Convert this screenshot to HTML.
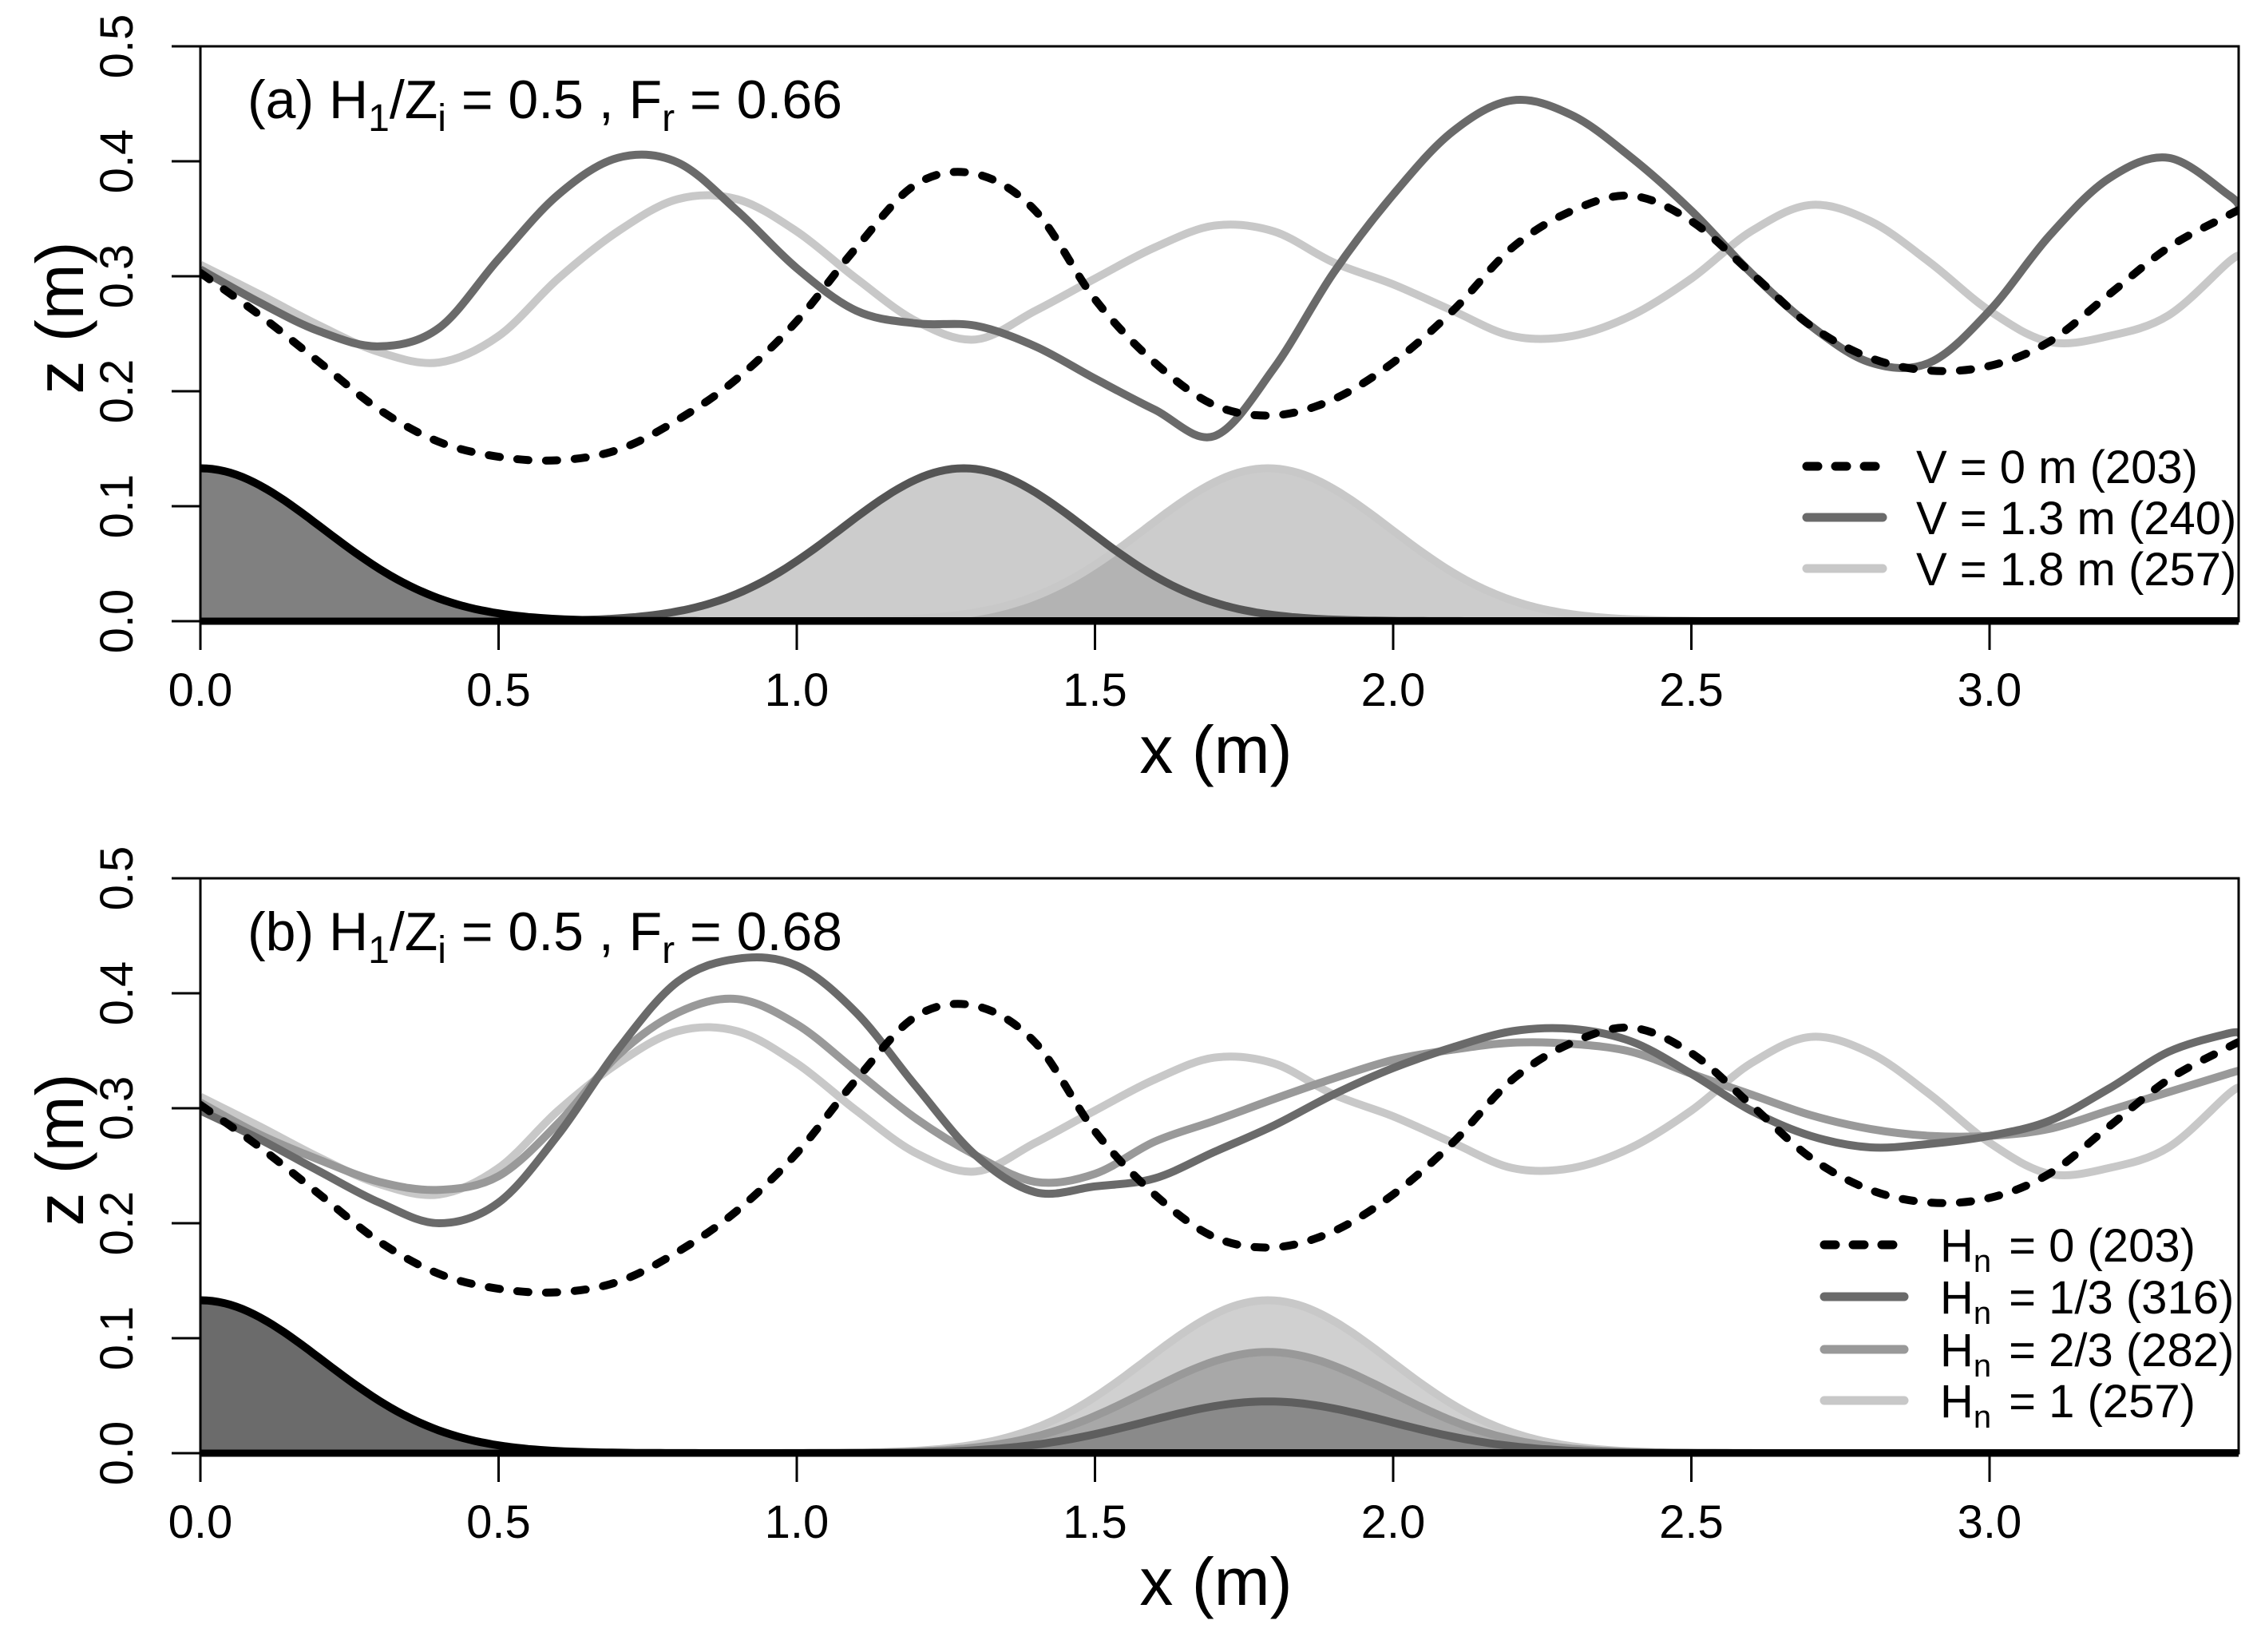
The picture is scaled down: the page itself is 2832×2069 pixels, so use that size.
<!DOCTYPE html>
<html><head><meta charset="utf-8"><title>Interface profiles</title>
<style>
html,body{margin:0;padding:0;background:#fff;}
svg text{font-family:"Liberation Sans",sans-serif;fill:#000;}
</style></head>
<body>
<svg id="fig" xmlns="http://www.w3.org/2000/svg" width="2832" height="2064" viewBox="0 0 2832 2064">
<rect width="2832" height="2064" fill="#fff"/>
</svg>
<script>
// ---- data ----
const xTickLabels = ["0.0","0.5","1.0","1.5","2.0","2.5","3.0"];
const xTickValues = [0,0.5,1.0,1.5,2.0,2.5,3.0];
const yTickLabels = ["0.0","0.1","0.2","0.3","0.4","0.5"];
const yTickValues = [0,0.1,0.2,0.3,0.4,0.5];

const xs = [0,0.1,0.2,0.3,0.4,0.5,0.6,0.7,0.8,0.9,1.0,1.1,1.2,1.3,1.4,1.5,1.6,1.7,1.8,1.9,2.0,2.1,2.2,2.3,2.4,2.5,2.6,2.7,2.8,2.9,3.0,3.1,3.2,3.3,3.4,3.42];
const zV0   = [0.303,0.266,0.225,0.184,0.156,0.143,0.140,0.149,0.175,0.211,0.261,0.325,0.380,0.389,0.357,0.280,0.225,0.188,0.179,0.193,0.225,0.270,0.325,0.357,0.370,0.348,0.303,0.257,0.229,0.218,0.222,0.243,0.284,0.325,0.353,0.358];
const zV13  = [0.306,0.277,0.252,0.239,0.255,0.315,0.371,0.403,0.399,0.357,0.307,0.270,0.259,0.257,0.239,0.211,0.184,0.161,0.220,0.303,0.371,0.426,0.453,0.440,0.403,0.357,0.303,0.257,0.225,0.225,0.270,0.335,0.385,0.403,0.371,0.360];
const zV18  = [0.310,0.284,0.257,0.234,0.225,0.248,0.298,0.339,0.367,0.367,0.339,0.298,0.261,0.245,0.270,0.298,0.325,0.344,0.339,0.312,0.293,0.270,0.248,0.248,0.266,0.298,0.339,0.362,0.348,0.312,0.270,0.243,0.248,0.266,0.312,0.318];
const zH13  = [0.298,0.273,0.245,0.218,0.200,0.218,0.277,0.351,0.410,0.430,0.424,0.383,0.319,0.259,0.227,0.232,0.239,0.262,0.285,0.312,0.335,0.353,0.367,0.369,0.358,0.330,0.298,0.276,0.266,0.269,0.276,0.289,0.317,0.349,0.365,0.365];
const zH23  = [0.305,0.277,0.255,0.236,0.229,0.241,0.287,0.346,0.383,0.395,0.373,0.332,0.291,0.259,0.236,0.243,0.271,0.289,0.308,0.326,0.342,0.351,0.357,0.356,0.349,0.330,0.312,0.294,0.282,0.276,0.276,0.282,0.298,0.314,0.330,0.333];
const zH1   = zV18;

const bumpCentersA = [0, 1.28, 1.79];
const bumpHeightsA = [0.133, 0.133, 0.133];
const bumpCenterB0 = 0;
const bumpHeightB0 = 0.133;
const bumpCentersB = [1.79, 1.79, 1.79];
const bumpHeightsB = [0.133, 0.088, 0.045];
const bumpSigma = 0.205;

const legendA = ["V = 0 m (203)","V = 1.3 m (240)","V = 1.8 m (257)"];
const legendB = ["= 0 (203)","= 1/3 (316)","= 2/3 (282)","= 1 (257)"];

// ---- helpers ----
const NS="http://www.w3.org/2000/svg";
const svg=document.getElementById('fig');
function el(tag,attrs,parent){const e=document.createElementNS(NS,tag);for(const k in attrs)e.setAttribute(k,attrs[k]);(parent||svg).appendChild(e);return e;}
const X0=251, XR=2804, PXM=747;
function sx(v){return X0+v*PXM;}
function makeSy(y0){return v=>y0-v*1440;}
function smoothPath(px,py){
  let d="M"+px[0].toFixed(1)+","+py[0].toFixed(1);
  for(let i=0;i<px.length-1;i++){
    const p0x=px[Math.max(i-1,0)],p0y=py[Math.max(i-1,0)];
    const p1x=px[i],p1y=py[i],p2x=px[i+1],p2y=py[i+1];
    const p3x=px[Math.min(i+2,px.length-1)],p3y=py[Math.min(i+2,py.length-1)];
    const c1x=p1x+(p2x-p0x)/6,c1y=p1y+(p2y-p0y)/6,c2x=p2x-(p3x-p1x)/6,c2y=p2y-(p3y-p1y)/6;
    d+=" C"+c1x.toFixed(1)+","+c1y.toFixed(1)+" "+c2x.toFixed(1)+","+c2y.toFixed(1)+" "+p2x.toFixed(1)+","+p2y.toFixed(1);
  }
  return d;
}
function bumpPaths(c,h,sy){
  let line="",n=0;
  for(let x=0;x<=3.42+1e-9;x+=0.01){const z=h*Math.exp(-((x-c)*(x-c))/(2*bumpSigma*bumpSigma));line+=(n++?" L":"M")+sx(x).toFixed(1)+","+sy(z).toFixed(1);}
  const fill=line+" L"+sx(3.42).toFixed(1)+","+sy(0)+" L"+sx(0)+","+sy(0)+" Z";
  return {line,fill};
}

function panel(y0,key){
  const sy=makeSy(y0);
  const g=el('g',{});
  
  
  const clipId='clip'+key;
  const cp=el('clipPath',{id:clipId},g);
  el('rect',{x:X0,y:y0-720,width:XR-X0,height:720},cp);
  const plot=el('g',{'clip-path':'url(#'+clipId+')'},g);
  
  
  return {g,plot,sy};
}

function axes(P,y0,key){
  const g=P.g, sy=P.sy;
  const box=el('rect',{x:X0,y:y0-720,width:XR-X0,height:720,fill:'none',stroke:'#000','stroke-width':3},g);
  
  
  const base=el('line',{x1:X0,x2:XR,y1:y0,y2:y0,stroke:'#000','stroke-width':9},g);
  
  
  xTickValues.forEach((v,i)=>{
    const t=el('line',{x1:sx(v),x2:sx(v),y1:y0,y2:y0+36,stroke:'#000','stroke-width':3},g);
    
    
    const l=el('text',{x:sx(v),y:y0+106,'font-size':58,'text-anchor':'middle'},g);
    l.textContent=xTickLabels[i];
    
    
  });
  yTickValues.forEach((v,i)=>{
    const t=el('line',{x1:X0-36,x2:X0,y1:sy(v),y2:sy(v),stroke:'#000','stroke-width':3},g);
    
    
    const l=el('text',{x:0,y:0,'font-size':58,'text-anchor':'middle',transform:'translate(166,'+sy(v)+') rotate(-90)'},g);
    l.textContent=yTickLabels[i];
    
    
  });
  const xt=el('text',{x:1523,y:y0+190,'font-size':84,'text-anchor':'middle'},g);
  xt.textContent='x (m)';
  
  
  const yt=el('text',{x:0,y:0,'font-size':84,'text-anchor':'middle',transform:'translate(104,'+(y0-380)+') rotate(-90)'},g);
  yt.textContent='z (m)';
  
  
}

function curve(P,zs,color,dashed,name){
  const d=smoothPath(xs.map(sx),zs.map(P.sy));
  const a={d,fill:'none',stroke:color,'stroke-width':10,'stroke-linejoin':'round'};
  if(dashed){a['stroke-dasharray']='14 22';a['stroke-linecap']='round';}
  const p=el('path',a,P.plot);
  
  
}

// ---- Panel A ----
const A=panel(778,'a');
{
  const sy=A.sy;
  const b2=bumpPaths(bumpCentersA[1],bumpHeightsA[1],sy), b3=bumpPaths(bumpCentersA[2],bumpHeightsA[2],sy);
  let f=el('path',{d:b2.fill,fill:'#999','fill-opacity':0.5},A.plot);  
  f=el('path',{d:b3.fill,fill:'#999','fill-opacity':0.5},A.plot);  
  let l=el('path',{d:b3.line,fill:'none',stroke:'#c8c8c8','stroke-width':10},A.plot);  
  l=el('path',{d:b2.line,fill:'none',stroke:'#555','stroke-width':10},A.plot);  
  const b1=bumpPaths(bumpCentersA[0],bumpHeightsA[0],sy);
  f=el('path',{d:b1.fill,fill:'#808080'},A.plot);  
  l=el('path',{d:b1.line,fill:'none',stroke:'#000','stroke-width':10},A.plot);  
  curve(A,zV18,'#c8c8c8',false,'interface-v18');
  curve(A,zV13,'#6a6a6a',false,'interface-v13');
  curve(A,zV0,'#000',true,'interface-v0');
}
axes(A,778,'a');

// ---- Panel B ----
const B=panel(1820,'b');
{
  const sy=B.sy;
  const fills=['#d0d0d0','#a8a8a8','#8a8a8a'], lines=['#c8c8c8','#999','#5e5e5e'], nm=['hn1','hn23','hn13'];
  for(let i=0;i<3;i++){
    const b=bumpPaths(bumpCentersB[i],bumpHeightsB[i],sy);
    let f=el('path',{d:b.fill,fill:fills[i]},B.plot);  
    let l=el('path',{d:b.line,fill:'none',stroke:lines[i],'stroke-width':10},B.plot);  
  }
  const b1=bumpPaths(bumpCenterB0,bumpHeightB0,sy);
  let f=el('path',{d:b1.fill,fill:'#6b6b6b'},B.plot);  
  let l=el('path',{d:b1.line,fill:'none',stroke:'#000','stroke-width':10},B.plot);  
  curve(B,zH1,'#c8c8c8',false,'interface-hn1');
  curve(B,zH23,'#999',false,'interface-hn23');
  curve(B,zH13,'#6a6a6a',false,'interface-hn13');
  curve(B,zV0,'#000',true,'interface-hn0');
}
axes(B,1820,'b');

// ---- titles ----
function titleText(g,y,letter,fr){
  const t=el('text',{x:310,y:y,'font-size':68},g);
  
  
  t.innerHTML='('+letter+') H<tspan font-size="48" dy="16">1</tspan><tspan dy="-16">/Z</tspan><tspan font-size="48" dy="16">i</tspan><tspan dy="-16"> = 0.5 , F</tspan><tspan font-size="48" dy="16">r</tspan><tspan dy="-16"> = '+fr+'</tspan>';
}
titleText(A.g,148,'a','0.66');
titleText(B.g,1190,'b','0.68');

// ---- legends ----
const legA=el('g',{});


const legAY=[584,648,712], legAStyle=[['#000',true],['#6a6a6a',false],['#c8c8c8',false]];
legendA.forEach((s,i)=>{
  const a={x1:2263,x2:2358,y1:legAY[i],y2:legAY[i],stroke:legAStyle[i][0],'stroke-width':11,'stroke-linecap':'round'};
  if(legAStyle[i][1])a['stroke-dasharray']='14 22';
  const ln=el('line',a,legA);
  
  
  const t=el('text',{x:2400,y:legAY[i]+21,'font-size':58},legA);
  t.textContent=s;
  
  
});
const legB=el('g',{});


const legBY=[1559,1624,1690,1754], legBStyle=[['#000',true],['#6a6a6a',false],['#999',false],['#c8c8c8',false]];
legendB.forEach((s,i)=>{
  const a={x1:2285,x2:2385,y1:legBY[i],y2:legBY[i],stroke:legBStyle[i][0],'stroke-width':11,'stroke-linecap':'round'};
  if(legBStyle[i][1])a['stroke-dasharray']='14 22';
  const ln=el('line',a,legB);
  
  
  const t=el('text',{x:2430,y:legBY[i]+21,'font-size':58},legB);
  t.innerHTML='H<tspan font-size="40" dy="13">n</tspan><tspan dy="-13" dx="22">'+s+'</tspan>';
  
  
});
</script>
</body></html>
